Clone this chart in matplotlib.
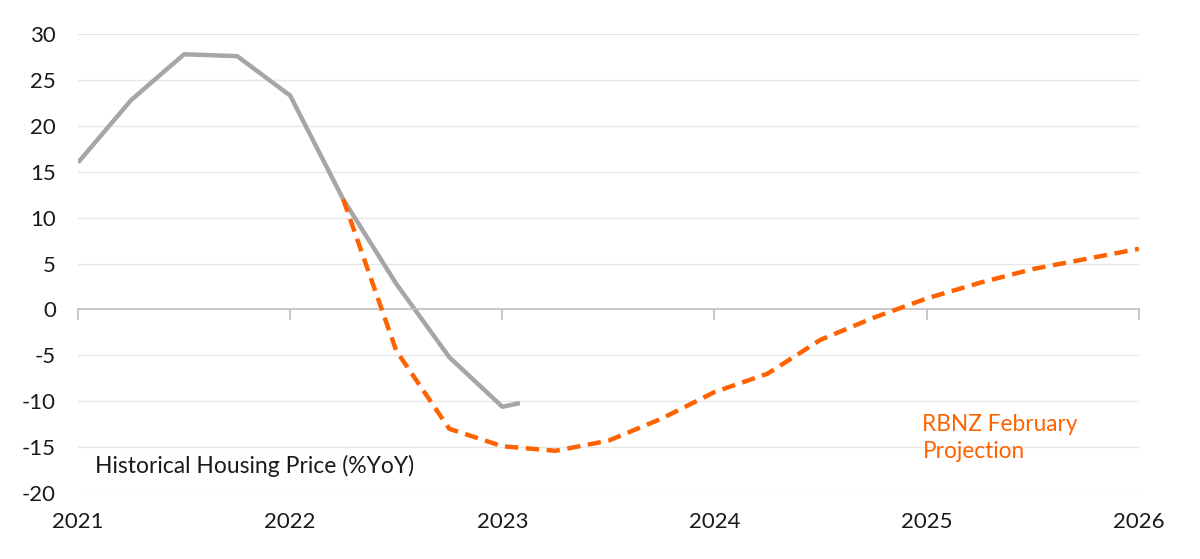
import matplotlib
matplotlib.use("Agg")
import matplotlib.pyplot as plt

# quarterly points (decimal years)
hist_x = [2021.0, 2021.25, 2021.5, 2021.75, 2022.0, 2022.25, 2022.5, 2022.75, 2023.0, 2023.083]
hist_y = [16.0, 22.8, 27.8, 27.6, 23.3, 12.0, 2.8, -5.2, -10.6, -10.2]

proj_x = [2022.25, 2022.5, 2022.75, 2023.0, 2023.25, 2023.5, 2023.75, 2024.0,
          2024.25, 2024.5, 2024.75, 2025.0, 2025.25, 2025.5, 2025.75, 2026.0]
proj_y = [12.0, -4.5, -13.0, -14.9, -15.4, -14.3, -11.9, -9.0,
          -7.0, -3.3, -0.9, 1.2, 2.9, 4.4, 5.5, 6.6]

years = [2021, 2022, 2023, 2024, 2025, 2026]
yticks = [-20, -15, -10, -5, 0, 5, 10, 15, 20, 25, 30]

GREY = "#A6A6A6"
ORANGE = "#FF6200"
TEXT = "#1a1a1a"

plt.rcParams['font.family'] = ['Lato', 'DejaVu Sans']

fig = plt.figure(figsize=(12, 5.59), dpi=100)
ax = fig.add_axes([0.065, 0.118, 0.884, 0.821])

for y in yticks:
    if y != 0:
        ax.axhline(y, color="#E6E6E6", lw=1, zorder=0)

ax.plot(hist_x, hist_y, color=GREY, lw=3.2, zorder=2, solid_capstyle='butt')
ax.plot(proj_x, proj_y, color=ORANGE, lw=3.2, ls=(0, (3, 1.7)), zorder=3)

ax.set_xlim(2021, 2026)
ax.set_ylim(-20, 30)
ax.set_yticks(yticks)
ax.set_yticklabels([str(v) for v in yticks])
ax.tick_params(axis='y', length=0, labelsize=16, labelcolor=TEXT, pad=16)

for s in ['top', 'right', 'left']:
    ax.spines[s].set_visible(False)
ax.spines['bottom'].set_position(('data', 0))
ax.spines['bottom'].set_color("#BFBFBF")
ax.spines['bottom'].set_linewidth(1.2)
ax.set_xticks(years)
ax.tick_params(axis='x', direction='out', length=8, width=1.2, color="#BFBFBF",
               labelbottom=False)

sec = ax.secondary_xaxis('bottom')
sec.set_xticks(years)
sec.set_xticklabels([str(v) for v in years])
sec.tick_params(length=0, labelsize=16, labelcolor=TEXT, pad=14)
sec.spines['bottom'].set_visible(False)

ax.text(2021.08, -17.1, "Historical Housing Price (%YoY)", fontsize=16.5,
        color=TEXT, va='center', ha='left')
ax.text(2024.98, -14.0, "RBNZ February\nProjection", fontsize=16.3,
        color=ORANGE, va='center', ha='left', linespacing=1.3)

fig.savefig("out.png", dpi=100, facecolor='white')
